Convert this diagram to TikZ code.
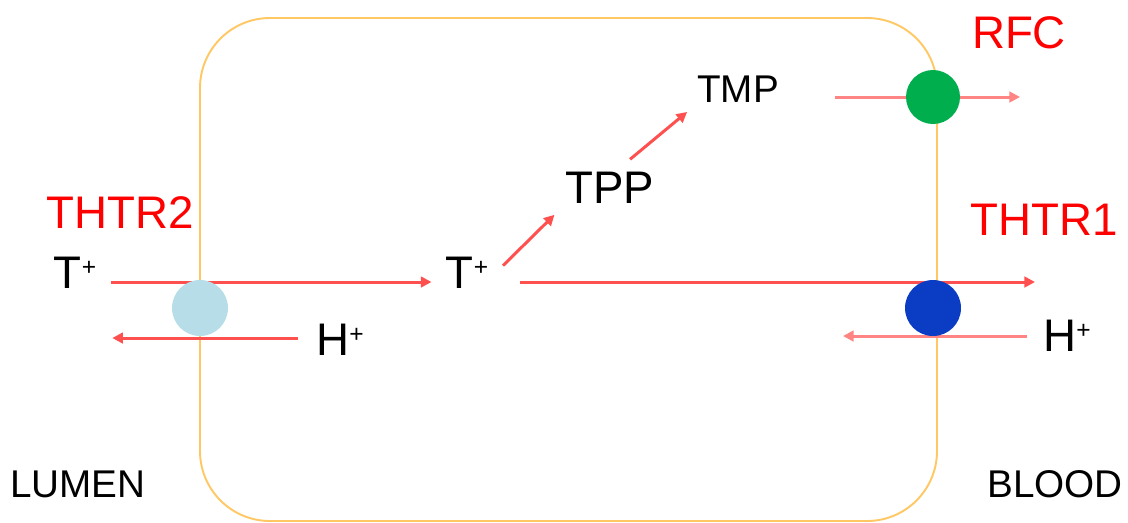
\documentclass[tikz,border=0pt]{standalone}
\usepackage{fontspec}
\setmainfont{Liberation Sans}
\usetikzlibrary{arrows.meta, positioning}

\definecolor{membrane}{HTML}{FFC864}
\definecolor{flowred}{HTML}{FF5050}
\definecolor{flowpink}{HTML}{FF8484}
\definecolor{labelred}{HTML}{FF0000}
\definecolor{rfcgreen}{HTML}{00AE4E}
\definecolor{thtrblue}{HTML}{0A3CC4}
\definecolor{thtrlight}{HTML}{B7DDE8}

% small raised plus for the ions
\newcommand{\ionplus}{\raisebox{7.6pt}{\fontsize{14}{14}\selectfont +}}

\begin{document}
\begin{tikzpicture}[
    x=0.02cm, y=-0.02cm,
    ion_style/.style={font=\fontsize{26}{30}\selectfont, inner sep=4pt},
    small_style/.style={font=\fontsize{22}{26}\selectfont, inner sep=4pt},
    carrier_label/.style={font=\fontsize{26}{30}\selectfont, text=labelred, inner sep=0pt},
    carrier_style/.style={circle, minimum size=1.12cm, inner sep=0pt},
    flow_style/.style={-{Triangle[length=6pt,width=6pt]}, line width=1.7pt, flowred},
    flow_light/.style={flow_style, flowpink}
]

    \useasboundingbox (0,0) rectangle (1128,522);

    % Cell membrane
    \draw[membrane, line width=1.1pt, rounded corners=1.4cm] (200,18) rectangle (937,521);

    % Substances
    \node[ion_style] (t_lumen) at (75,273) {T\ionplus};
    \node[ion_style] (t_cell) at (467,273) {T\ionplus};
    \node[ion_style] (tpp) at (610,188) {TPP};
    \node[small_style] (tmp) at (738,89) {TMP};
    \node[ion_style] (h_lumen) at (340,340) {H\ionplus};
    \node[ion_style] (h_blood) at (1067,336) {H\ionplus};

    % Sides
    \node[small_style] (lumen) at (78,484) {LUMEN};
    \node[small_style] (blood) at (1055,484) {BLOOD};

    % Transporter names
    \node[carrier_label] (thtr2_lbl) at (120,213) {THTR2};
    \node[carrier_label] (thtr1_lbl) at (1044,220) {THTR1};
    \node[carrier_label] (rfc_lbl) at (1019,33) {RFC};

    % Free ends
    \coordinate (t_out) at (1035,282);
    \coordinate (h_in) at (843,336);
    \coordinate (rfc_in) at (835,97);
    \coordinate (rfc_out) at (1020,97);

    % Transporter positions (drawn later on top)
    \coordinate (thtr2_c) at (200,308);
    \coordinate (thtr1_c) at (933,308);
    \coordinate (rfc_c) at (933,97);

    % Fluxes
    \draw[flow_style, shorten <=4pt, shorten >=4pt] (t_lumen.east |- 0,282) -- (t_cell.west |- 0,282);
    \draw[flow_style, shorten <=14pt] (t_cell.east |- t_out) -- (t_out);
    \draw[flow_style, shorten <=6pt, shorten >=5pt] (h_lumen.west |- 0,338) -- (t_lumen.east |- 0,338);
    \draw[flow_light, shorten <=5pt] (h_blood.west |- h_in) -- (h_in);
    \draw[flow_light] (rfc_in) -- (rfc_out);
    \draw[flow_style, shorten <=6pt, shorten >=3pt] (t_cell.east) -- (tpp.south west);
    \draw[flow_style, shorten <=5pt, shorten >=2pt] (tpp.60) -- (tmp.south west);

    % Transporters
    \node[carrier_style, fill=thtrlight] (thtr2) at (thtr2_c) {};
    \node[carrier_style, fill=thtrblue] (thtr1) at (thtr1_c) {};
    \node[carrier_style, fill=rfcgreen, minimum size=1.08cm] (rfc) at (rfc_c) {};

\end{tikzpicture}
\end{document}
